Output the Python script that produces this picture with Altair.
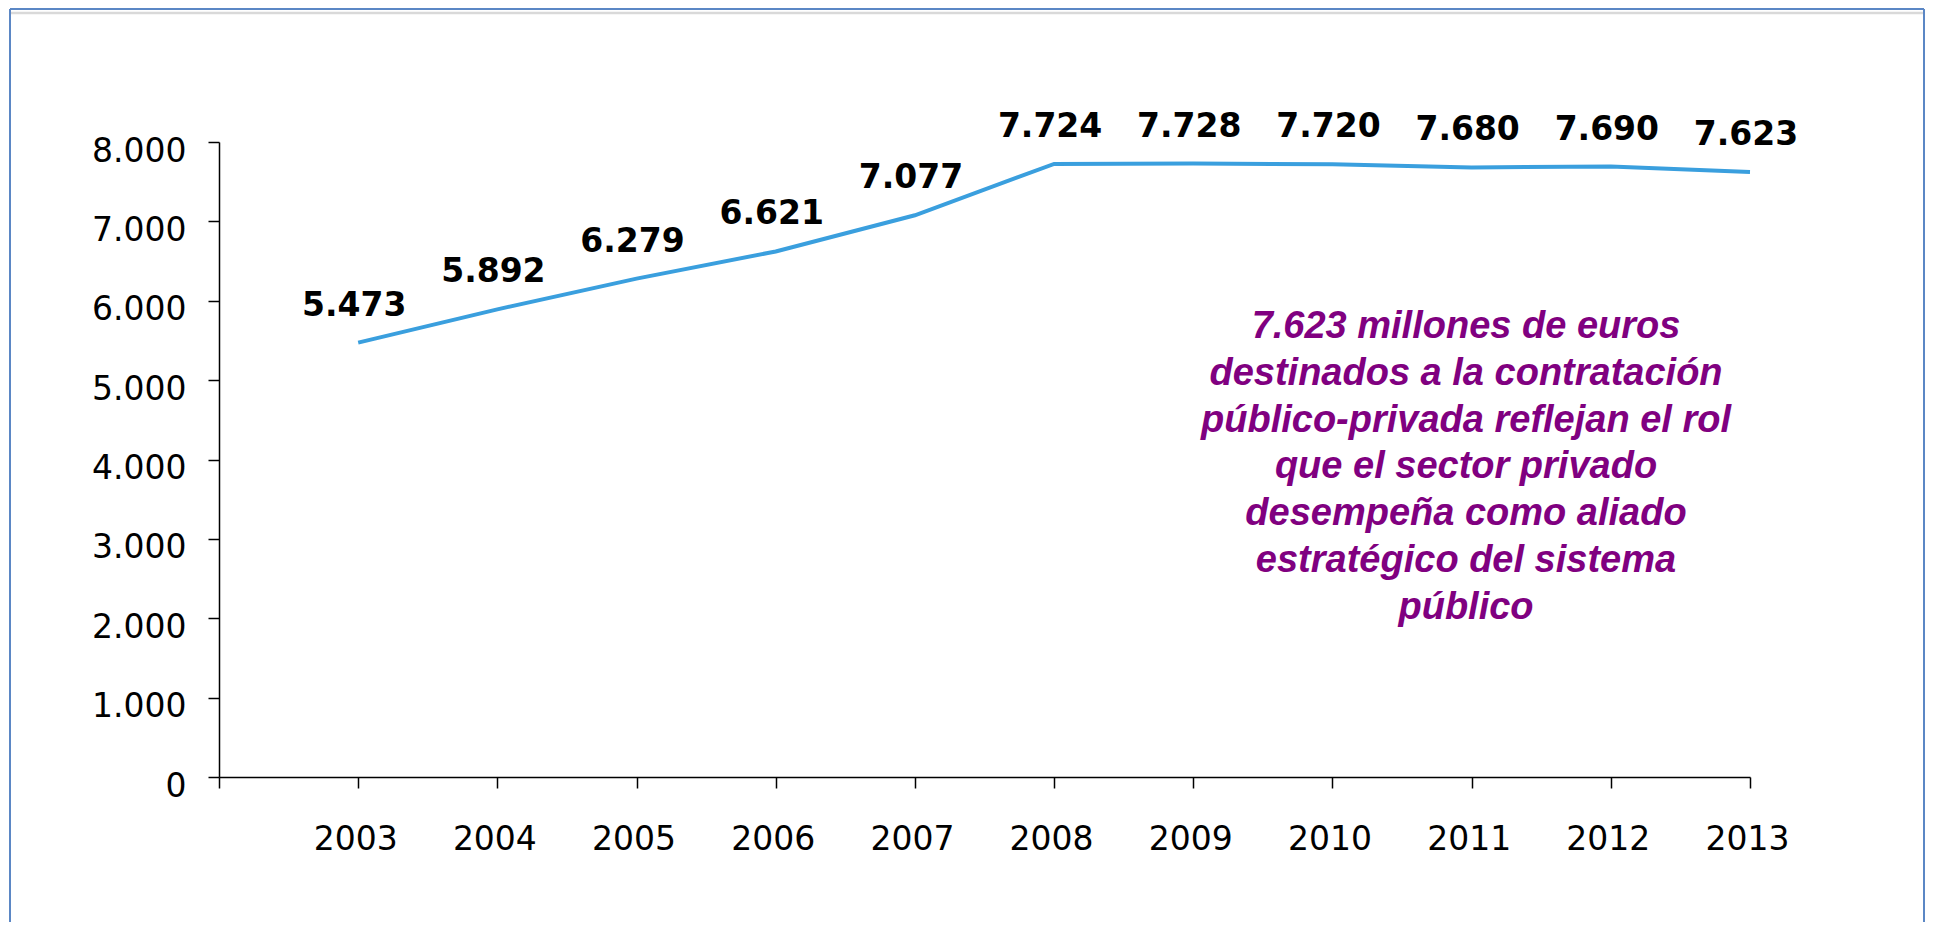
import altair as alt
import pandas as pd

# ---- data ----
years = [2003, 2004, 2005, 2006, 2007, 2008, 2009, 2010, 2011, 2012, 2013]
values = [5473, 5892, 6279, 6621, 7077, 7724, 7728, 7720, 7680, 7690, 7623]
y_ticks = [0, 1000, 2000, 3000, 4000, 5000, 6000, 7000, 8000]
x_ticks = [2002, 2003, 2004, 2005, 2006, 2007, 2008, 2009, 2010, 2011, 2012, 2013]
note_lines = [
    "7.623 millones de euros",
    "destinados a la contratación",
    "público-privada reflejan el rol",
    "que el sector privado",
    "desempeña como aliado",
    "estratégico del sistema",
    "público",
]

df = pd.DataFrame({"year": years, "value": values})
one = pd.DataFrame({"k": [0]})

W, H = 1531, 635

x_enc = alt.X(
    "year:Q",
    title=None,
    scale=alt.Scale(domain=[2002, 2013], nice=False, zero=False),
    axis=alt.Axis(
        values=x_ticks,
        format="d",
        labelExpr="datum.value == 2002 ? '' : datum.label",
        tickSize=11,
        labelPadding=35,
        labelFlush=False,
        labelOverlap=False,
        labelOffset=-3,
    ),
)
y_enc = alt.Y(
    "value:Q",
    title=None,
    scale=alt.Scale(domain=[0, 8000], nice=False),
    axis=alt.Axis(
        values=y_ticks,
        labelExpr="replace(format(datum.value, ','), ',', '.')",
        tickSize=11,
        labelPadding=22,
        labelOffset=9,
        labelFlush=False,
        labelOverlap=False,
    ),
)

line = alt.Chart(df).mark_line(color="#3A9FDE", strokeWidth=4).encode(x=x_enc, y=y_enc)

labels = (
    alt.Chart(df)
    .transform_calculate(lbl="replace(format(datum.value, ','), ',', '.')")
    .mark_text(
        font="DejaVu Sans",
        fontSize=33,
        fontWeight="bold",
        color="#000000",
        baseline="alphabetic",
        align="center",
        dy=-27,
        dx=-4,
    )
    .encode(x="year:Q", y="value:Q", text="lbl:N")
)

note = (
    alt.Chart(one)
    .mark_text(
        text=note_lines,
        font="Liberation Sans",
        fontSize=38,
        fontWeight="bold",
        fontStyle="italic",
        color="#800080",
        align="center",
        baseline="alphabetic",
        lineHeight=46.8,
    )
    .encode(x=alt.value(1247), y=alt.value(196))
)

# decorative frame around the chart
frame_left = alt.Chart(one).mark_rule(color="#5B87C5", strokeWidth=2).encode(
    x=alt.value(-209), y=alt.value(-133), y2=alt.value(780)
)
frame_right = alt.Chart(one).mark_rule(color="#5B87C5", strokeWidth=2).encode(
    x=alt.value(1705), y=alt.value(-133), y2=alt.value(780)
)
frame_top = alt.Chart(one).mark_rule(color="#5B87C5", strokeWidth=2).encode(
    x=alt.value(-209), x2=alt.value(1705), y=alt.value(-133)
)
frame_grey = alt.Chart(one).mark_rule(color="#D9D9D9", strokeWidth=2.5).encode(
    x=alt.value(-208), x2=alt.value(1704), y=alt.value(-129)
)

chart = (
    alt.layer(frame_left, frame_right, frame_top, frame_grey, line, labels, note)
    .properties(
        width=W,
        height=H,
        autosize=alt.AutoSizeParams(type="none"),
        padding={"left": 211, "top": 134, "right": 176, "bottom": 146},
        background="#FFFFFF",
    )
    .configure_view(stroke=None)
    .configure_axis(
        grid=False,
        domainColor="#000000",
        domainWidth=1.5,
        tickColor="#000000",
        tickWidth=1.5,
        labelFont="DejaVu Sans",
        labelFontSize=33,
        labelColor="#000000",
    )
)

chart.save("out.html", embed_options={"renderer": "svg", "actions": False})
